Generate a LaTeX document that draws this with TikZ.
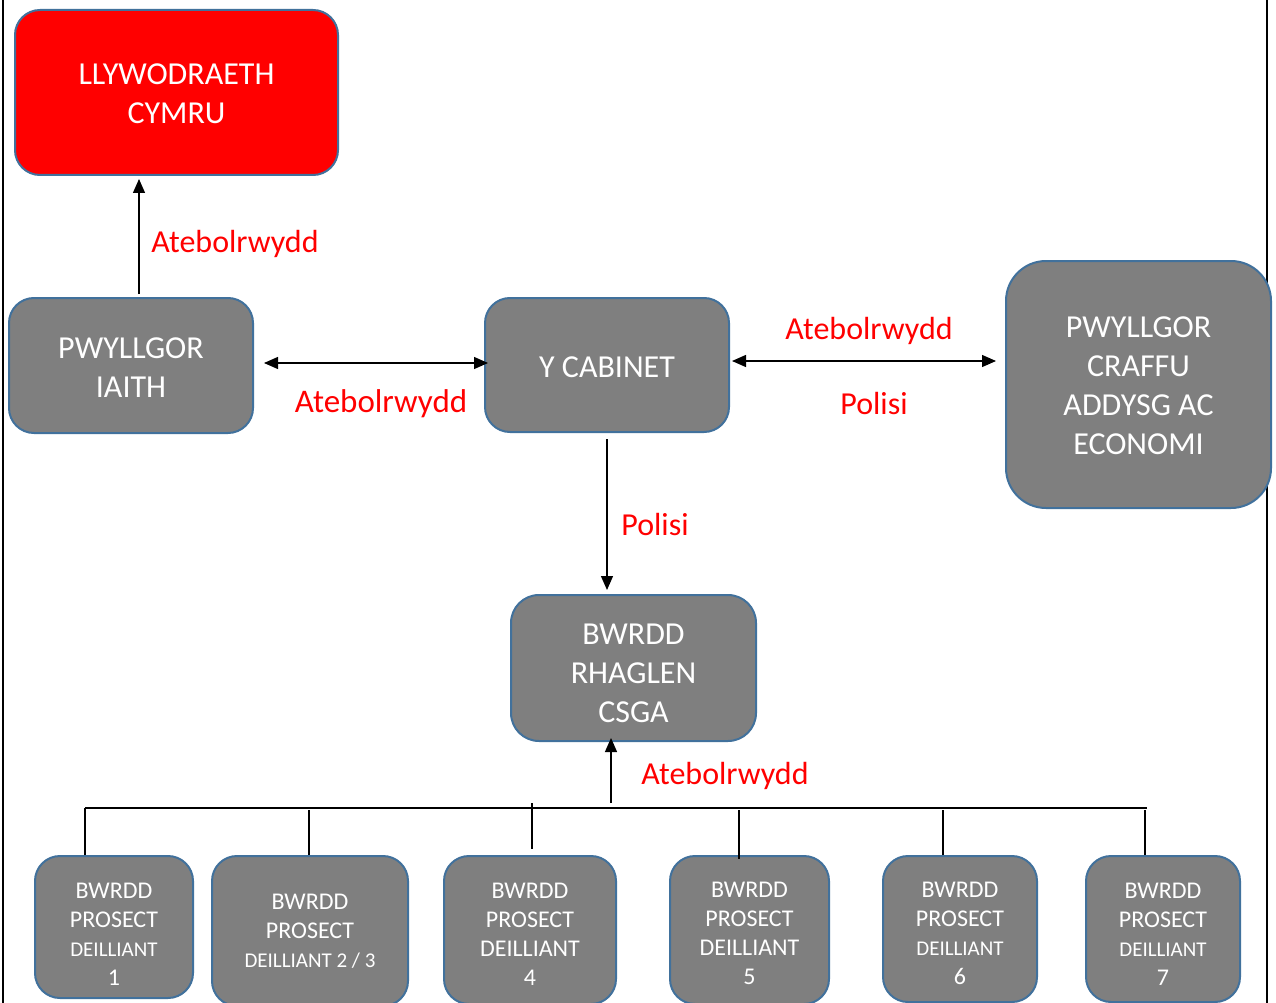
\documentclass[tikz,border=0pt]{standalone}
\usepackage{fontspec}
\setmainfont{Carlito}
\usetikzlibrary{arrows.meta}
\definecolor{boxgray}{HTML}{7F7F7F}
\definecolor{bord}{HTML}{41719C}
\definecolor{redfill}{HTML}{FF0000}
\newcommand{\dn}[1]{\rule{0pt}{#1}}
\tikzset{
  box/.style={draw=bord, line width=2pt, fill=boxgray, text=white, align=center, inner sep=0pt, rounded corners=25pt},
  bigtext/.style={font=\fontsize{32}{39}\selectfont},
  smalltext/.style={font=\fontsize{24}{29}\selectfont},
  lab/.style={text=red, anchor=base, inner sep=0pt, font=\fontsize{32}{39}\selectfont},
  arr/.style={line width=1.3pt, -{Triangle[length=14pt,width=12pt]}},
  darr/.style={line width=1.3pt, {Triangle[length=14pt,width=12pt]}-{Triangle[length=14pt,width=12pt]}},
  conn/.style={line width=1.1pt}
}
\begin{document}
\begin{tikzpicture}[x=1pt,y=-1pt]
\useasboundingbox (0,0) rectangle (1276,1003);
\fill[white] (0,0) rectangle (1276,1003);
% page border lines
\coordinate (bl1) at (3,0); \coordinate (bl2) at (3,1003);
\coordinate (br1) at (1267,0); \coordinate (br2) at (1267,1003);
\draw[line width=2pt] (bl1) -- (bl2);
\draw[line width=2pt] (br1) -- (br2);

% main boxes
\node[box, bigtext, fill=redfill, minimum width=323pt, minimum height=165pt] (llyw) at (176.5,92.5) {\dn{24pt}LLYWODRAETH\\CYMRU};
\node[box, bigtext, minimum width=244pt, minimum height=135pt] (iaith) at (131,365.5) {\dn{24pt}PWYLLGOR\\IAITH};
\node[box, bigtext, minimum width=244pt, minimum height=134pt] (cab) at (607,365) {\dn{26pt}Y CABINET};
\node[box, bigtext, rounded corners=40pt, minimum width=265pt, minimum height=247pt] (craffu) at (1138.5,384.5) {\dn{24pt}PWYLLGOR\\CRAFFU\\ADDYSG AC\\ECONOMI};
\node[box, bigtext, rounded corners=28pt, minimum width=245pt, minimum height=146pt] (rhaglen) at (633.5,668) {\dn{32pt}BWRDD\\RHAGLEN\\CSGA};

% bottom boxes
\node[box, smalltext, minimum width=158pt, minimum height=142pt] (b1) at (114,927) {\dn{29pt}BWRDD\\PROSECT\\{\fontsize{21}{27}\selectfont DEILLIANT}\\1};
\node[box, smalltext, minimum width=196pt, minimum height=150pt] (b23) at (310,931) {BWRDD\\PROSECT\\{\fontsize{21}{29}\selectfont DEILLIANT 2 / 3}};
\node[box, smalltext, minimum width=172pt, minimum height=148pt] (b4) at (530,930) {\dn{23pt}BWRDD\\PROSECT\\DEILLIANT\\4};
\node[box, smalltext, minimum width=159pt, minimum height=148pt] (b5) at (749.5,930) {\dn{23pt}BWRDD\\PROSECT\\DEILLIANT\\5};
\node[box, smalltext, minimum width=154pt, minimum height=146pt] (b6) at (960,929) {\dn{25pt}BWRDD\\PROSECT\\{\fontsize{21}{27}\selectfont DEILLIANT}\\6};
\node[box, smalltext, minimum width=154pt, minimum height=146pt] (b7) at (1163,929) {\dn{25pt}BWRDD\\PROSECT\\{\fontsize{21}{27}\selectfont DEILLIANT}\\7};

% connectors
\draw[arr, shorten <=3pt, shorten >=3pt] ([xshift=8pt]iaith.north) -- ([xshift=8pt]iaith.north |- llyw.south);
\draw[darr, shorten <=10pt, shorten >=-4pt] ([yshift=2.5pt]iaith.east) -- ([yshift=2.5pt]iaith.east -| cab.west);
\draw[darr, shorten <=2pt, shorten >=9pt] ([yshift=4pt]cab.east) -- ([yshift=4pt]cab.east -| craffu.west);
\draw[arr, shorten <=6pt, shorten >=4pt] (cab.south) -- (cab.south |- rhaglen.north);

\coordinate (up) at (611,803);
\draw[arr, shorten >=-4pt] (up) -- (up |- rhaglen.south);
\coordinate (busL) at (85,808);
\coordinate (busR) at (1147,808);
\draw[conn] (busL) -- (busR);
\coordinate (t1) at (85,808);
\coordinate (t2) at (309,810);
\coordinate (t3) at (532,803);
\coordinate (t4) at (739,810);
\coordinate (t5) at (943,810);
\coordinate (t6) at (1145,810);
\draw[conn] (t1) -- (t1 |- b1.north);
\draw[conn] (t2) -- (t2 |- b23.north);
\draw[conn] (t3) -- ([yshift=6pt]t3 |- b4.north);
\draw[conn] (t4) -- ([yshift=-4pt]t4 |- b5.north);
\draw[conn] (t5) -- (t5 |- b6.north);
\draw[conn] (t6) -- (t6 |- b7.north);

% labels
\node[lab] (l1) at (235,252) {Atebolrwydd};
\node[lab, font=\fontsize{33}{40}\selectfont] (l2) at (381,412.5) {Atebolrwydd};
\node[lab] (l3) at (869,339) {Atebolrwydd};
\node[lab] (l4) at (874,414) {Polisi};
\node[lab] (l5) at (655,535) {Polisi};
\node[lab] (l6) at (725,784) {Atebolrwydd};
\end{tikzpicture}
\end{document}
